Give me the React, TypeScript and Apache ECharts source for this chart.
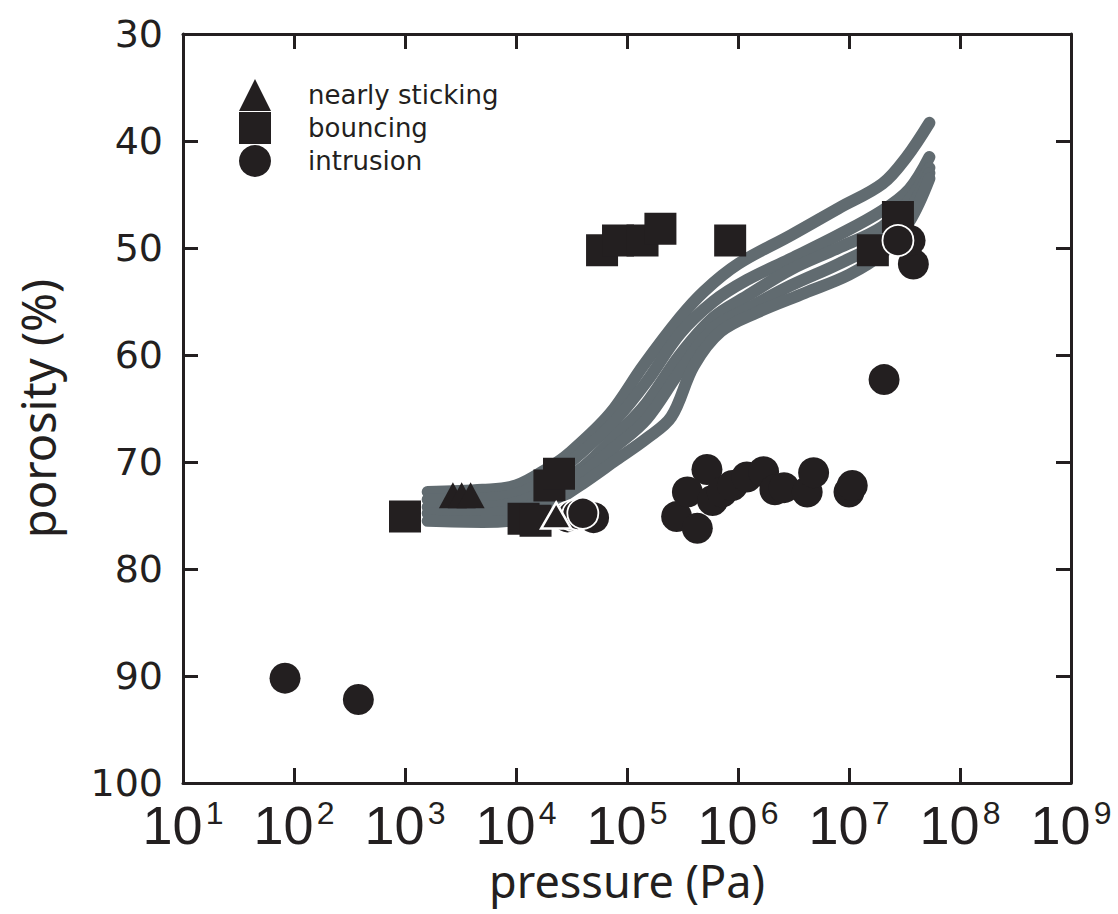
import React, { useEffect, useRef } from "react";
import * as echarts from "echarts";

// ---------- data ----------
const legendNames = ["nearly sticking", "bouncing", "intrusion"];
const yTicks = [30, 40, 50, 60, 70, 80, 90, 100];

// [pressure (Pa), porosity (%)]
const stickingPts = [
  [2.7e3, 73.1],
  [3.24e3, 73.1],
  [3.9e3, 73.1],
];
const stickingOpenPts = [[2.3e4, 75.0]];

const bouncingPts = [
  [1.0e3, 75.1],
  [1.17e4, 75.3],
  [1.5e4, 75.5],
  [2.0e4, 72.2],
  [2.44e4, 71.1],
  [5.96e4, 50.2],
  [8.3e4, 49.3],
  [1.38e5, 49.3],
  [2.0e5, 48.2],
  [8.5e5, 49.3],
  [1.64e7, 50.2],
  [2.76e7, 47.1],
];

const intrusionPts = [
  [83, 90.2],
  [380, 92.2],
  [5.0e4, 75.2],
  [2.8e5, 75.1],
  [4.3e5, 76.2],
  [3.5e5, 72.8],
  [5.25e5, 70.7],
  [5.9e5, 73.6],
  [7.2e5, 72.8],
  [8.9e5, 72.2],
  [1.2e6, 71.4],
  [1.7e6, 70.9],
  [2.15e6, 72.6],
  [2.6e6, 72.4],
  [4.2e6, 72.8],
  [4.8e6, 71.0],
  [1.0e7, 72.8],
  [1.07e7, 72.2],
  [2.07e7, 62.3],
  [3.8e7, 51.5],
  [3.55e7, 49.3],
];
const intrusionOpenPts = [
  [2.9e4, 75.2],
  [3.25e4, 75.0],
  [3.6e4, 74.9],
  [4.0e4, 74.8],
  [2.76e7, 49.3],
];

// compaction curves (pressure, porosity)
const curve1 = [
  [1.6e3, 72.8], [5e3, 72.6], [1e4, 72.2], [2e4, 70.5], [3e4, 69.2], [7e4, 65.5],
  [1.4e5, 61.0], [3e5, 56.5], [5e5, 54.0], [1e6, 51.5], [3e6, 48.8], [8e6, 46.3],
  [2e7, 44.0], [3.3e7, 41.5], [5.3e7, 38.3],
];
const curve2 = [
  [1.6e3, 73.5], [5e3, 73.4], [1e4, 73.0], [2e4, 71.5], [4e4, 69.0], [8e4, 66.0],
  [1.5e5, 62.5], [3e5, 58.0], [6e5, 55.0], [1.2e6, 53.0], [3e6, 51.0], [8e6, 48.8],
  [2e7, 46.5], [3.5e7, 44.5], [5.3e7, 41.5],
];
const curve3 = [
  [1.6e3, 74.2], [5e3, 74.2], [1e4, 73.8], [2e4, 72.5], [4e4, 70.5], [8e4, 67.5],
  [1.5e5, 64.5], [3e5, 60.0], [6e5, 56.5], [1.2e6, 54.5], [3e6, 52.0], [8e6, 50.0],
  [2e7, 48.0], [3.5e7, 45.5], [5.3e7, 42.5],
];
const curve4 = [
  [1.6e3, 74.8], [5e3, 74.8], [1e4, 74.5], [2e4, 73.2], [4e4, 71.0], [8e4, 68.5],
  [1.5e5, 66.0], [3e5, 61.5], [6e5, 57.5], [1.2e6, 55.7], [3e6, 53.5], [8e6, 51.5],
  [2e7, 49.3], [3.5e7, 46.5], [5.3e7, 43.0],
];
const curve5 = [
  [1.6e3, 75.5], [5e3, 75.6], [1e4, 75.4], [2e4, 74.0], [4e4, 72.0], [8e4, 69.8],
  [1.5e5, 67.8], [2.5e5, 65.8], [4e5, 61.0], [7e5, 57.8], [1.5e6, 56.0], [4e6, 54.2],
  [1e7, 52.5], [2e7, 50.5], [3.5e7, 47.5], [5.3e7, 43.5],
];
const curves = [curve1, curve2, curve3, curve4, curve5];

// ---------- styles ----------
const INK = "#231f20";
const GRAY = "#616b70";

export default function App() {
  const ref = useRef<HTMLDivElement>(null);

  useEffect(() => {
    if (!ref.current) return;
    const chart = echarts.init(ref.current, null, { renderer: "svg" });

    const axisLine = { show: true, lineStyle: { color: INK, width: 3 } };
    const axisTick = { show: true, inside: true, length: 15, lineStyle: { color: INK, width: 3 } };

    const curveSeries = curves.map((c) => ({
      type: "line",
      data: c,
      showSymbol: false,
      symbol: "none",
      smooth: 0.35,
      silent: true,
      z: 1,
      lineStyle: { color: GRAY, width: 12, cap: "round", join: "round", opacity: 1 },
    }));

    const option: any = {
      animation: false,
      backgroundColor: "#ffffff",
      grid: { left: 183, top: 34, width: 888, height: 749, containLabel: false },
      legend: {
        data: legendNames,
        orient: "vertical",
        left: 239,
        top: 79,
        padding: 0,
        itemWidth: 32,
        itemHeight: 32,
        itemGap: 1,
        selectedMode: false,
        textStyle: {
          fontFamily: "DejaVu Sans",
          fontSize: 26,
          lineHeight: 30,
          color: INK,
          padding: [0, 0, 0, 32],
        },
      },
      xAxis: [
        {
          type: "log",
          logBase: 10,
          min: 10,
          max: 1e9,
          splitNumber: 8,
          position: "bottom",
          name: "pressure (Pa)",
          nameLocation: "middle",
          nameGap: 74,
          nameTextStyle: { fontFamily: "Noto Sans", fontSize: 45, color: INK },
          axisLine,
          axisTick,
          splitLine: { show: false },
          minorTick: { show: false },
          axisLabel: {
            margin: 14,
            fontFamily: "'Liberation Sans Narrow', 'Liberation Sans', sans-serif",
            fontSize: 54,
            lineHeight: 56,
            color: INK,
            formatter: (v: number) => `10{s|${Math.round(Math.log10(v))}}`,
            rich: {
              s: {
                fontFamily: "'Liberation Sans Narrow', 'Liberation Sans', sans-serif",
                fontSize: 32,
                lineHeight: 30,
                verticalAlign: "top",
                color: INK,
                padding: [0, 0, 0, 3],
              },
            },
          },
        },
        {
          type: "log",
          logBase: 10,
          min: 10,
          max: 1e9,
          splitNumber: 8,
          position: "top",
          axisLine,
          axisTick,
          axisLabel: { show: false },
          splitLine: { show: false },
        },
      ],
      yAxis: [
        {
          type: "value",
          inverse: true,
          min: 30,
          max: 100,
          interval: 10,
          position: "left",
          name: "porosity (%)",
          nameLocation: "middle",
          nameGap: 122,
          nameTextStyle: { fontFamily: "Noto Sans", fontSize: 47, color: INK },
          axisLine,
          axisTick,
          splitLine: { show: false },
          axisLabel: {
            margin: 20,
            fontFamily: "DejaVu Sans",
            fontSize: 38,
            color: INK,
            formatter: (v: number) => (yTicks.includes(v) ? String(v) : ""),
          },
        },
        {
          type: "value",
          inverse: true,
          min: 30,
          max: 100,
          interval: 10,
          position: "right",
          axisLine,
          axisTick,
          axisLabel: { show: false },
          splitLine: { show: false },
        },
      ],
      series: [
        ...curveSeries,
        {
          name: "nearly sticking",
          type: "scatter",
          data: stickingPts,
          symbol: "triangle",
          symbolSize: [28, 26],
          z: 3,
          itemStyle: { color: INK, opacity: 1 },
        },
        {
          name: "bouncing",
          type: "scatter",
          data: bouncingPts,
          symbol: "rect",
          symbolSize: 32,
          z: 3,
          itemStyle: { color: INK, opacity: 1 },
        },
        {
          name: "intrusion",
          type: "scatter",
          data: intrusionPts,
          symbol: "circle",
          symbolSize: 31,
          z: 3,
          itemStyle: { color: INK, opacity: 1 },
        },
        {
          name: "intrusion",
          type: "scatter",
          data: intrusionOpenPts,
          symbol: "circle",
          symbolSize: 31,
          z: 4,
          itemStyle: { color: INK, borderColor: "#ffffff", borderWidth: 1.8, opacity: 1 },
        },
        {
          name: "nearly sticking",
          type: "scatter",
          data: stickingOpenPts,
          symbol: "triangle",
          symbolSize: [30, 26],
          z: 5,
          itemStyle: { color: INK, borderColor: "#ffffff", borderWidth: 2.5, opacity: 1 },
        },
      ],
    };

    chart.setOption(option);
    return () => chart.dispose();
  }, []);

  return (
    <div
      ref={ref}
      style={{ position: "fixed", left: 0, top: 0, width: 1118, height: 914, background: "#fff" }}
    />
  );
}
